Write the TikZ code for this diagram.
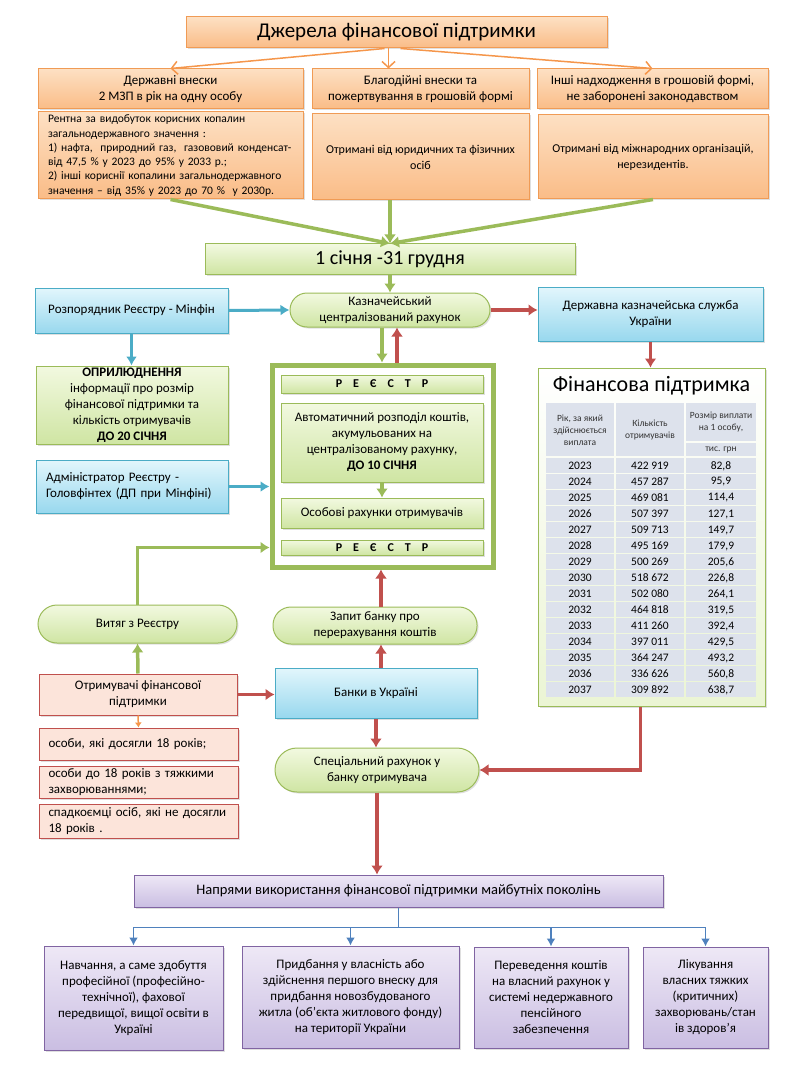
\documentclass[tikz,border=0pt]{standalone}
\usepackage{fontspec}
\setmainfont{Carlito}
\usetikzlibrary{arrows.meta,shadows,calc}

\definecolor{orline}{RGB}{240,155,85}
\definecolor{ortop}{RGB}{253,224,195}
\definecolor{orbot}{RGB}{250,188,135}
\definecolor{grline}{RGB}{155,187,89}
\definecolor{grtop}{RGB}{242,249,224}
\definecolor{grbot}{RGB}{207,229,163}
\definecolor{blline}{RGB}{75,172,198}
\definecolor{bltop}{RGB}{226,246,252}
\definecolor{blbot}{RGB}{152,216,238}
\definecolor{puline}{RGB}{128,100,162}
\definecolor{putop}{RGB}{238,232,246}
\definecolor{pubot}{RGB}{202,190,226}
\definecolor{pkline}{RGB}{192,80,77}
\definecolor{pkfill}{RGB}{252,228,218}
\definecolor{cellc}{RGB}{221,226,236}
\definecolor{parr}{RGB}{79,129,189}
\definecolor{oarr}{RGB}{245,150,75}

\newcommand{\regword}{\textbf{Р\hspace{11pt}Е\hspace{11pt}Є\hspace{11pt}С\hspace{11pt}Т\hspace{11pt}Р}}

\tikzset{
  box/.style={draw, line width=1pt, inner sep=2pt, align=center,
    font=\fontsize{13}{16}\selectfont,
    drop shadow={shadow xshift=1.5pt,shadow yshift=-1.5pt,opacity=.25}},
  obox/.style={box, draw=orline, top color=ortop, bottom color=orbot},
  gbox/.style={box, draw=grline, top color=grtop, bottom color=grbot},
  bbox/.style={box, draw=blline, top color=bltop, bottom color=blbot},
  pbox/.style={box, draw=puline, top color=putop, bottom color=pubot},
  kbox/.style={box, draw=pkline, fill=pkfill, align=left},
  garrow/.style={draw=grline, line width=3.5pt, -{Latex[length=9pt,width=12pt]}},
  rarrow/.style={draw=pkline, line width=3.5pt, -{Latex[length=9pt,width=12pt]}},
  barrow/.style={draw=blline, line width=3pt, -{Latex[length=9pt,width=11pt]}},
  parrow/.style={draw=parr, line width=1.8pt, -{Latex[length=8pt,width=9pt]}},
  oarrow/.style={draw=oarr, line width=1.5pt, -{Straight Barb[length=6pt,width=13pt]}},
}

\begin{document}
\begin{tikzpicture}[x=1pt,y=-1pt]
\useasboundingbox (0,0) rectangle (800,1067);

% sources
\node[obox, minimum width=421, minimum height=31, font=\fontsize{21}{24}\selectfont] (src) at (396.5,32.5) {Джерела фінансової підтримки};
\node[obox, minimum width=265, minimum height=40] (dv) at (170.5,89) {Державні внески\\2 МЗП в рік на одну особу};
\node[obox, minimum width=217, minimum height=40] (bv) at (420.5,89) {Благодійні внески та\\пожертвування в грошовій формі};
\node[obox, minimum width=231, minimum height=40] (ih) at (652.5,89) {Інші надходження в грошовій формі,\\не заборонені законодавством};
\node[obox, minimum height=87, text width=245, inner xsep=10, align=left, font=\fontsize{11.5}{14.3}\selectfont] (rent) at (170.5,155.5)
  {Рентна за видобуток корисних копалин\\загальнодержавного значення :\\1) нафта,\ \ природний газ,\ \ газововий конденсат-\\від 47,5 \% у 2023 до 95\% у 2033 р.;\\2) інші кориснії копалини загальнодержавного\\значення -- від 35\% у 2023 до 70 \%\ \ у 2030р.};
\node[obox, minimum width=217, minimum height=86, font=\fontsize{12}{16}\selectfont] (bvb) at (420.5,157) {Отримані від юридичних та фізичних\\осіб};
\node[obox, minimum width=230, minimum height=84, font=\fontsize{12}{16}\selectfont] (ihb) at (653,157) {Отримані від міжнародних організацій,\\нерезидентів.};

\draw[oarrow] ([xshift=-12pt]src.south) -- (dv.north);
\draw[oarrow] ([xshift=-8pt]src.south) -- ([xshift=-8pt]src.south |- bv.north);
\draw[oarrow] ([xshift=4pt]src.south) -- (ih.north);

% period
\node[gbox, minimum width=370, minimum height=30, font=\fontsize{20}{24}\selectfont] (jan) at (390,259) {1 січня -31 грудня};
\draw[garrow] (rent.south) -- (jan.north);
\draw[garrow] (jan.north |- bvb.south) -- (jan.north);
\draw[garrow] (ihb.south) -- (jan.north);

% treasury row
\node[bbox, minimum width=193, minimum height=45] (rozp) at (131.5,310.5) {Розпорядник Реєстру - Мінфін};
\node[gbox, minimum width=200, minimum height=34, rounded corners=17pt] (kazn) at (390,310) {Казначейський\\централізований рахунок};
\node[bbox, minimum width=225, minimum height=54] (dks) at (650.5,314) {Державна казначейська служба\\України};
\draw[barrow] (rozp.east) -- (kazn.west);
\draw[garrow] (jan.south) -- (kazn.north);
\draw[rarrow] (kazn.east) -- (kazn.east -| dks.west);

% left column
\node[gbox, minimum width=192, minimum height=78, inner sep=0pt] (opr) at (132,405)
  {\textbf{ОПРИЛЮДНЕННЯ}\\інформації про розмір\\фінансової підтримки та\\кількість отримувачів\\\textbf{ДО 20 СІЧНЯ}};
\node[bbox, minimum height=53, text width=172, inner xsep=10, align=left] (adm) at (132,486.5) {Адміністратор Реєстру -\\Головфінтех (ДП при Мінфіні)};
\draw[barrow] (rozp.south) -- (rozp.south |- opr.north);

% register
\node[draw=grline, line width=5pt, fill=white, minimum width=221, minimum height=202,
  drop shadow={shadow xshift=1.5pt,shadow yshift=-1.5pt,opacity=.25}] (reg) at (382.5,466) {};
\node[gbox, minimum width=202, minimum height=18, inner sep=0pt, font=\fontsize{12}{14}\selectfont] (reg1) at (382,384) {\regword};
\node[gbox, minimum width=202, minimum height=79] (auto) at (382,442.5) {Автоматичний розподіл коштів,\\акумульованих на\\централізованому рахунку,\\\textbf{ДО 10 СІЧНЯ}};
\node[gbox, minimum width=202, minimum height=30] (osob) at (382,513) {Особові рахунки отримувачів};
\node[gbox, minimum width=202, minimum height=15, inner sep=0pt, font=\fontsize{12}{14}\selectfont] (reg2) at (382,547.5) {\regword};
\draw[garrow] (auto.south) -- (osob.north);
\draw[garrow] ([xshift=-8pt]kazn.south) -- ([xshift=-8pt]kazn.south |- reg.north);
\draw[rarrow] ([xshift=7pt]kazn.south |- reg.north) -- ([xshift=7pt]kazn.south);
\draw[barrow] (adm.east) -- (adm.east -| reg.west);

% recipients
\node[gbox, minimum width=199, minimum height=38, rounded corners=19pt] (vyt) at (137.5,624) {Витяг з Реєстру};
\node[kbox, minimum width=198, minimum height=41, align=center] (otr) at (138,694.5) {Отримувачі фінансової\\підтримки};
\node[kbox, minimum height=32, text width=180, inner xsep=9.5] (it1) at (138.5,744) {особи, які досягли 18 років;};
\node[kbox, minimum height=31, text width=180, inner xsep=9.5] (it2) at (138.5,782.5) {особи до 18 років з тяжкими\\захворюваннями;};
\node[kbox, minimum height=34, text width=180, inner xsep=9.5] (it3) at (138.5,821) {спадкоємці осіб, які не досягли\\18 років .};
\draw[garrow] (vyt.north) |- (reg2 -| reg.west);
\draw[garrow] (otr.north) -- (vyt.south);
\draw[draw=oarr, line width=1.5pt, -{Latex[length=5pt,width=7pt]}] (otr.south) -- (it1.north);

% banks
\node[gbox, minimum width=204, minimum height=37, rounded corners=18pt] (zapyt) at (375,625.5) {Запит банку про\\перерахування коштів};
\node[bbox, minimum width=202, minimum height=50] (bank) at (376,693) {Банки в Україні};
\node[gbox, minimum width=204, minimum height=44, rounded corners=22pt] (spec) at (377,770) {Спеціальний рахунок у\\банку отримувача};
\draw[rarrow] ([xshift=6pt]zapyt.north) -- ([xshift=6pt]zapyt.north |- reg.south);
\draw[rarrow] ([xshift=5pt]bank.north) -- ([xshift=5pt]bank.north |- zapyt.south);
\draw[rarrow] (otr.east) -- (otr.east -| bank.west);
\draw[rarrow] (bank.south) -- (bank.south |- spec.north);

% table
\node[draw=grline, line width=1pt, top color=white, bottom color=grtop!80!grbot, minimum width=227, minimum height=338,
  drop shadow={shadow xshift=1.5pt,shadow yshift=-1.5pt,opacity=.25}] (fin) at (651.5,537) {};
\node[font=\fontsize{22}{24}\selectfont] (fintitle) at (651.5,386) {Фінансова підтримка};
\draw[rarrow] (dks.south) -- (dks.south |- fin.north);
\fill[cellc] (546,403) rectangle (614,456);
\fill[cellc] (616,403) rectangle (684,456);
\fill[cellc] (686,403) rectangle (756,441);
\fill[cellc] (686,443) rectangle (756,456);
\node[align=center, font=\fontsize{9.5}{12}\selectfont, text=black!80] (h1) at (580,430) {Рік, за який\\здійснюється\\виплата};
\node[align=center, font=\fontsize{9.5}{12}\selectfont, text=black!80] (h2) at (650,430) {Кількість\\отримувачів};
\node[align=center, font=\fontsize{9.5}{12}\selectfont, text=black!80] (h3) at (721,422) {Розмір виплати\\на 1 особу,};
\node[font=\fontsize{9.5}{12}\selectfont, text=black!80] (h4) at (721,450) {тис. грн};
\foreach \yr/\num/\pay [count=\i from 0] in {2023/422 919/{82,8},2024/457 287/{95,9},2025/469 081/{114,4},
    2026/507 397/{127,1},2027/509 713/{149,7},2028/495 169/{179,9},2029/500 269/{205,6},2030/518 672/{226,8},
    2031/502 080/{264,1},2032/464 818/{319,5},2033/411 260/{392,4},2034/397 011/{429,5},2035/364 247/{493,2},
    2036/336 626/{560,8},2037/309 892/{638,7}}
{
  \fill[cellc] (546,{458+16*\i}) rectangle (614,{472.5+16*\i});
  \fill[cellc] (616,{458+16*\i}) rectangle (684,{472.5+16*\i});
  \fill[cellc] (686,{458+16*\i}) rectangle (756,{472.5+16*\i});
  \node[font=\fontsize{11.5}{13}\selectfont] (yr\i) at (580,{466+16*\i}) {\yr};
  \node[font=\fontsize{11.5}{13}\selectfont] (num\i) at (650,{466+16*\i}) {\num};
  \node[font=\fontsize{11.5}{13}\selectfont] (pay\i) at (721,{466+16*\i}) {\pay};
}
\draw[rarrow] ([xshift=-11pt]fin.south) |- (spec.east);

% directions
\node[pbox, minimum width=529, minimum height=32, font=\fontsize{14.5}{17}\selectfont] (nap) at (398.5,891) {Напрями використання фінансової підтримки майбутніх поколінь};
\draw[rarrow] (spec.south) -- (spec.south |- nap.north);
\node[pbox, minimum width=179, minimum height=104] (b1) at (133.5,998) {Навчання, а саме здобуття\\професійної (професійно-\\технічної), фахової\\передвищої, вищої освіти в\\Україні};
\node[pbox, minimum width=217, minimum height=102] (b2) at (350.5,997) {Придбання у власність або\\здійснення першого внеску для\\придбання новозбудованого\\житла (об'єкта житлового фонду)\\на території України};
\node[pbox, minimum width=154, minimum height=101] (b3) at (551,997.5) {Переведення коштів\\на власний рахунок у\\системі недержавного\\пенсійного\\забезпечення};
\node[pbox, minimum width=125, minimum height=101] (b4) at (705.5,997.5) {Лікування\\власних тяжких\\(критичних)\\захворювань/стан\\ів здоров'я};
\coordinate (bus) at ($(nap.south)+(0,20)$);
\draw[draw=parr, line width=1.8pt] (nap.south) -- (bus);
\foreach \b in {b1,b2,b3,b4}
  \draw[parrow] (bus) -| (\b.north);
\end{tikzpicture}
\end{document}
